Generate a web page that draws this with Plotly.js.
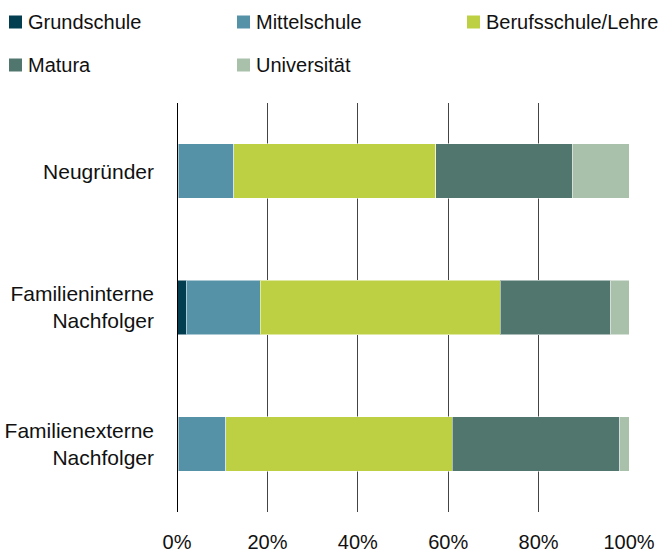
<!DOCTYPE html>
<html>
<head>
<meta charset="utf-8">
<script src="https://cdn.plot.ly/plotly-3.0.1.min.js"></script>
<style>html,body{margin:0;padding:0;background:#fff;}#chart{width:665px;height:553px;}</style>
</head>
<body>
<div id="chart"></div>
<script>
var categories = ["Neugründer", "Familieninterne<br>Nachfolger", "Familienexterne<br>Nachfolger"];
var seriesNames = ["Grundschule", "Mittelschule", "Berufsschule/Lehre", "Matura", "Universität"];
var grundschule = [0.3, 2.0, 0.3];
var mittelschule = [12.3, 16.4, 10.5];
var berufsschule = [44.6, 53.1, 50.1];
var matura = [30.2, 24.5, 37.0];
var universitaet = [12.6, 4.0, 2.1];
var tickValues = [0, 20, 40, 60, 80, 100];
var tickLabels = ["0%", "20%", "40%", "60%", "80%", "100%"];
var colors = ["#033d50", "#5592a8", "#bdd043", "#50766e", "#a9c1ab"];

var values = [grundschule, mittelschule, berufsschule, matura, universitaet];
var FONT = "Liberation Sans, Arial, sans-serif";
var W = 665, H = 553;
var M = { l: 177, r: 36, t: 103, b: 41 };
var PW = W - M.l - M.r, PH = H - M.t - M.b;
function px2x(px) { return (px - M.l) / PW; }
function py2y(py) { return (H - M.b - py) / PH; }

var traces = values.map(function (v, i) {
  return {
    type: "bar",
    orientation: "h",
    name: seriesNames[i],
    x: v,
    y: categories,
    marker: { color: colors[i], line: { color: "rgba(255,255,255,0.5)", width: 1 } },
    showlegend: false,
    hoverinfo: "x+name"
  };
});

// manual legend (layout of legend entries, in pixels)
var legendCols = [9, 237, 467];
var legendRows = [22, 65];
var shapes = [{
  type: "line", xref: "x", yref: "paper", x0: 0, x1: 0, y0: 0, y1: 1,
  line: { color: "#000", width: 2 }, layer: "above"
}];
var annotations = [];
seriesNames.forEach(function (name, i) {
  var col = i < 3 ? i : i - 3;
  var row = i < 3 ? 0 : 1;
  var sx = legendCols[col], sy = legendRows[row];
  shapes.push({
    type: "rect", xref: "paper", yref: "paper",
    x0: px2x(sx), x1: px2x(sx + 13), y0: py2y(sy + 6.5), y1: py2y(sy - 6.5),
    fillcolor: colors[i], line: { width: 0 }
  });
  annotations.push({
    xref: "paper", yref: "paper", x: px2x(sx + 17), y: py2y(sy),
    xanchor: "left", yanchor: "middle", showarrow: false, text: name,
    font: { family: FONT, size: 20, color: "#111" }
  });
});

var layout = {
  width: W,
  height: H,
  barmode: "stack",
  bargap: 0.6,
  margin: { l: M.l, r: M.r, t: M.t, b: M.b, pad: 0 },
  paper_bgcolor: "#fff",
  plot_bgcolor: "#fff",
  font: { family: FONT, size: 20, color: "#111" },
  xaxis: {
    range: [0, 100],
    tickvals: tickValues,
    ticktext: tickLabels,
    showgrid: true,
    gridcolor: "#444",
    gridwidth: 1,
    zeroline: false,
    showline: false,
    ticks: "",
    ticklabelstandoff: 16,
    tickfont: { family: FONT, size: 20, color: "#111" },
    fixedrange: true
  },
  yaxis: {
    autorange: "reversed",
    showgrid: false,
    zeroline: false,
    showline: false,
    ticks: "",
    ticklabelstandoff: 22,
    tickfont: { family: FONT, size: 21, color: "#111" },
    fixedrange: true
  },
  shapes: shapes,
  annotations: annotations,
  showlegend: false
};

Plotly.newPlot("chart", traces, layout, { displayModeBar: false, staticPlot: true });
</script>
</body>
</html>
